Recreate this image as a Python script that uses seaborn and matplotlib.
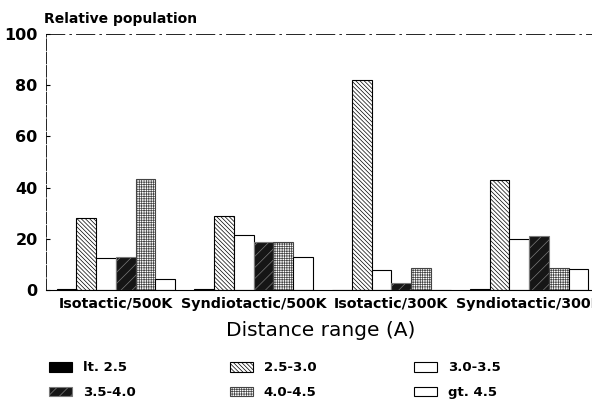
import numpy as np
import pandas as pd
import matplotlib
matplotlib.use('Agg')
import matplotlib.pyplot as plt
from matplotlib.patches import Patch
import seaborn as sns

# Data
systems = ['Isotactic/500K', 'Syndiotactic/500K', 'Isotactic/300K', 'Syndiotactic/300K']
ranges = ['lt. 2.5', '2.5-3.0', '3.0-3.5', '3.5-4.0', '4.0-4.5', 'gt. 4.5']
iso_500 = [0.3, 28.0, 12.4, 12.8, 43.2, 4.2]
syn_500 = [0.3, 29.0, 21.5, 18.7, 18.7, 12.8]
iso_300 = [0.0, 82.0, 7.8, 2.6, 8.7, 0.0]
syn_300 = [0.3, 43.0, 20.0, 21.0, 8.5, 8.2]

rows = []
for name, vals in zip(systems, [iso_500, syn_500, iso_300, syn_300]):
    for r, v in zip(ranges, vals):
        rows.append({'system': name, 'range': r, 'pop': v})
df = pd.DataFrame(rows)

# fill / hatch per distance range
faces = ['#000000', 'white', 'white', '#161616', 'white', 'white']
edges = ['black', 'black', 'black', '#7a7a7a', '#444444', 'black']
hatches = [None, '\\' * 8, None, '///', '+' * 7, None]

sns.set_style('white')
plt.rcParams['font.family'] = ['DejaVu Sans']
plt.rcParams['hatch.linewidth'] = 0.5
for key in ['text.color', 'axes.labelcolor', 'xtick.color', 'ytick.color']:
    plt.rcParams[key] = 'black'

fig = plt.figure(figsize=(5.92, 4.03), dpi=100)
ax = fig.add_axes([46 / 592, 1 - 290 / 403, 1 - 46 / 592, (290 - 34) / 403])

sns.barplot(data=df, x='system', y='pop', hue='range', order=systems,
            hue_order=ranges, palette=['white'] * 6, width=0.86,
            linewidth=0.8, edgecolor='black', legend=False, ax=ax)

for cont, fc, ec, h in zip(ax.containers, faces, edges, hatches):
    for bar in cont:
        bar.set_facecolor(fc)
        bar.set_edgecolor(ec)
        if h:
            bar.set_hatch(h)

ax.set_xlim(-0.508, 3.457)
ax.set_ylim(0, 100)
ax.set_yticks([0, 20, 40, 60, 80, 100])
ax.set_xlabel('')
ax.set_ylabel('')

ax.tick_params(axis='y', direction='in', length=3, width=0.8, pad=6,
               labelsize=11.5, left=True)
ax.tick_params(axis='x', length=0, pad=5, labelsize=10.3)
for lab in ax.get_xticklabels() + ax.get_yticklabels():
    lab.set_fontweight('bold')

for s in ['left', 'bottom', 'top']:
    ax.spines[s].set_color('black')
    ax.spines[s].set_linewidth(0.8)
ax.spines['top'].set_linewidth(0.6)
ax.spines['top'].set_linestyle((0, (22, 6, 2, 6)))
ax.spines['left'].set_linewidth(0.6)
ax.spines['left'].set_linestyle((0, (14, 2)))
ax.spines['right'].set_visible(False)

fig.text(44 / 592, 1 - 19 / 403, 'Relative population', fontsize=10,
         fontweight='bold', va='center', ha='left')
fig.text(321 / 592, 1 - 331 / 403, 'Distance range (A)', fontsize=14.5,
         va='center', ha='center')

# legend: three columns of two rows
col_x = [44, 225, 409]
for c in range(3):
    handles = []
    labels = []
    for k in (c, c + 3):
        handles.append(Patch(facecolor=faces[k], edgecolor=edges[k],
                             hatch=hatches[k], linewidth=0.8))
        labels.append(ranges[k])
    leg = fig.legend(handles, labels, loc='upper left',
                     bbox_to_anchor=(col_x[c] / 592, 1 - 356 / 403),
                     frameon=False, handlelength=1.75, handleheight=0.75,
                     handletextpad=0.8, labelspacing=0.9, borderaxespad=0,
                     prop={'weight': 'bold', 'size': 9.5})

fig.savefig('out.png', dpi=100)
